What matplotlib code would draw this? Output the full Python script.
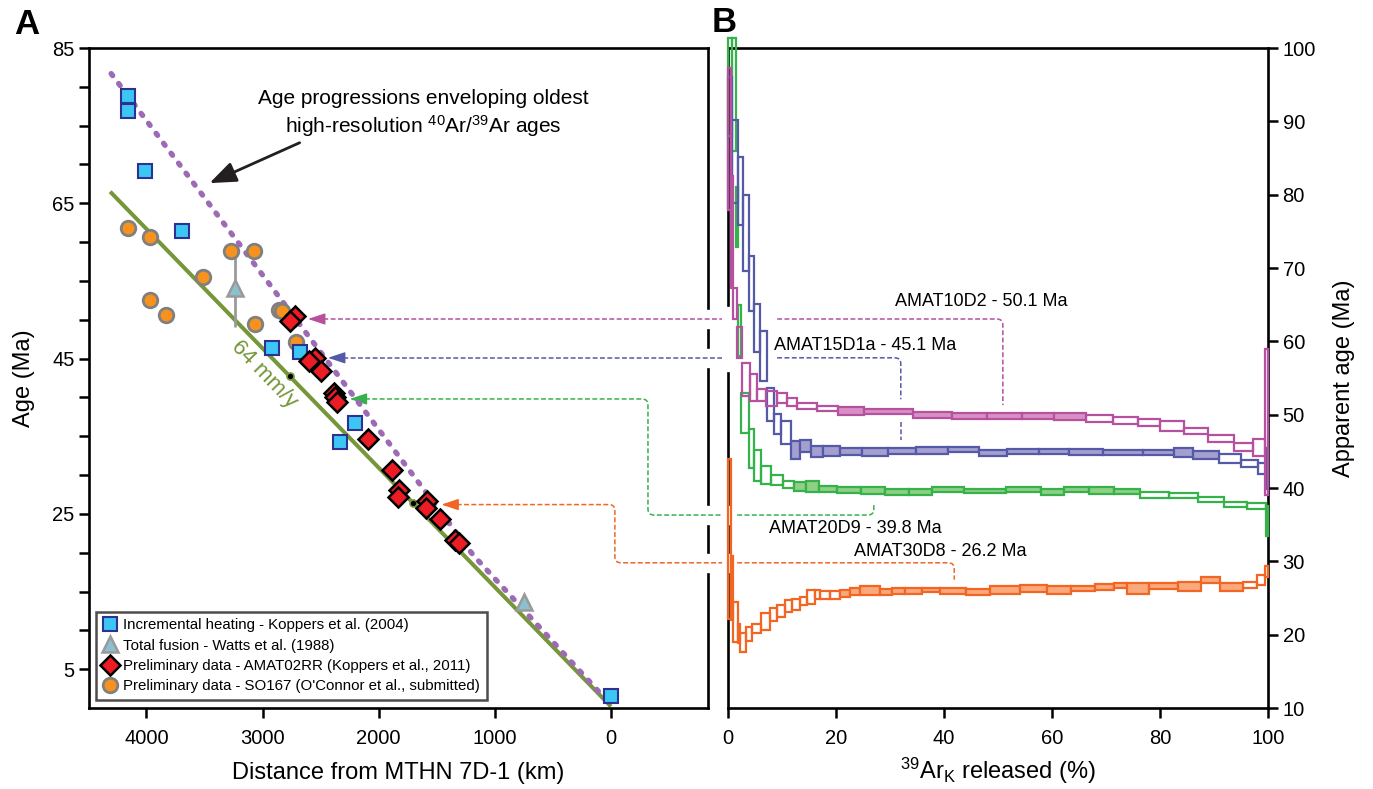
import numpy as np
import matplotlib
matplotlib.use('Agg')
import matplotlib.pyplot as plt
from matplotlib.lines import Line2D
from matplotlib.path import Path
from matplotlib.patches import PathPatch
from matplotlib.ticker import MultipleLocator, FixedLocator

plt.rcParams['font.family'] = ['Liberation Sans', 'DejaVu Sans']
plt.rcParams['mathtext.fontset'] = 'custom'
plt.rcParams['mathtext.rm'] = 'Liberation Sans'
plt.rcParams['mathtext.it'] = 'Liberation Sans:italic'
plt.rcParams['mathtext.bf'] = 'Liberation Sans:bold'

# ---------------- Panel A data ----------------
ih_dist = [4155, 4155, 4009, 3698, 2916, 2681, 2207, 2336, 0]
ih_age = [78.8, 76.9, 69.2, 61.4, 46.3, 45.9, 36.7, 34.3, 1.6]
tf_dist = [3241, 750]
tf_age = [54.1, 13.6]
tf_err = [5.0, 0.0]
am_dist = [2724, 2761, 2552, 2601, 2494, 2388, 2379, 2359, 2092, 1888, 1828, 1833,
           1580, 1589, 1468, 1345, 1310]
am_age = [50.5, 49.9, 45.1, 44.7, 43.4, 40.6, 40.1, 39.4, 34.6, 30.7, 28.1, 27.2,
          26.6, 25.8, 24.3, 21.7, 21.3]
so_dist = [4160, 3968, 3270, 3075, 3515, 3968, 3830, 3069, 2860, 2830, 2710]
so_age = [61.8, 60.6, 58.8, 58.9, 55.5, 52.6, 50.6, 49.4, 51.2, 51.1, 47.1]
env_dist = [4304, 1187, 0]
env_age = [81.7, 19.7, 0.4]
rate_dist = [4313, 0]
rate_age = [66.5, 0.2]
rate_mark_dist = [2761, 1704]
rate_mark_age = [42.7, 26.4]

legend_labels = ['Incremental heating - Koppers et al. (2004)',
                 'Total fusion - Watts et al. (1988)',
                 'Preliminary data - AMAT02RR (Koppers et al., 2011)',
                 "Preliminary data - SO167 (O'Connor et al., submitted)"]

# ---------------- Panel B data (step-heating spectra) ----------------
m_edges = [0, 0.5, 1.0, 1.7, 2.6, 4.0, 5.3, 7.1, 9.0, 10.9, 12.7, 16.4, 20.4, 25.1, 34.3,
           41.4, 47.9, 54.4, 60.4, 66.3, 71.3, 75.9, 80.0, 84.4, 88.9, 93.7, 97.2, 99.4, 100]
m_lo = [77.9, 67.3, 63.1, 57.7, 52.5, 51.9, 51.9, 51.2, 51.6, 51.2, 50.8, 50.5,
        49.9, 50.1, 49.6, 49.4, 49.4, 49.4, 49.3,
        49.0, 48.7, 48.4, 47.8, 47.3, 46.3, 45.0, 44.3, 39.1]
m_hi = [97.3, 82.6, 67.3, 62.0, 57.1, 55.6, 53.5, 53.2, 53.0, 52.3, 51.6, 51.2,
        51.0, 50.8, 50.4, 50.2, 50.2, 50.2, 50.2,
        50.0, 49.7, 49.4, 49.2, 48.2, 47.2, 46.2, 46.7, 59.0]
m_plateau = (12, 18)

b_edges = [0, 0.7, 1.9, 2.8, 3.8, 4.8, 5.9, 7.2, 8.5, 9.9, 11.6, 13.3, 15.3, 17.5, 20.7,
           24.9, 29.7, 34.8, 40.8, 46.4, 51.6, 57.5, 63.2, 69.5, 76.9, 82.5, 86.2, 91.0,
           95.0, 98.1, 99.6, 100]
b_lo = [77.9, 78.8, 75.8, 69.6, 64.2, 58.5, 54.6, 49.1, 47.3, 46.0,
        44.0, 44.9, 44.2, 44.3, 44.5, 44.4, 44.7, 44.7, 44.9, 44.3, 44.6, 44.7, 44.5,
        44.5, 44.5, 44.2, 44.0,
        43.4, 42.8, 41.9, 39.8]
b_hi = [96.1, 90.2, 85.1, 79.9, 71.6, 65.1, 61.4, 53.7, 50.1, 49.1,
        46.4, 46.5, 45.7, 45.7, 45.5, 45.5, 45.5, 45.6, 45.6, 45.2, 45.3, 45.3, 45.3,
        45.2, 45.2, 45.5, 45.0,
        44.6, 43.8, 43.4, 45.5]
b_plateau = (10, 26)

g_edges = [0, 0.7, 1.4, 1.8, 2.4, 3.9, 4.8, 6.2, 7.9, 10.1, 12.2, 14.4, 16.9, 20.2, 24.7,
           29.0, 33.5, 37.7, 43.7, 51.5, 58.0, 62.2, 66.9, 71.5, 76.3, 81.7, 87.1, 91.8,
           96.2, 99.6, 100]
g_lo = [88.0, 86.0, 72.8, 58.0, 47.5, 42.7, 40.9, 40.6, 40.4, 40.0,
        39.6, 39.5, 39.4, 39.3, 39.2, 39.1, 39.0, 39.5, 39.3, 39.4, 39.0, 39.4, 39.2, 39.2,
        38.7, 38.6, 38.1, 37.4, 37.2, 33.4]
g_hi = [101.4, 101.4, 81.0, 65.0, 53.0, 48.0, 45.2, 43.0, 41.8, 40.9,
        40.8, 41.0, 40.3, 40.1, 40.1, 39.9, 39.9, 40.2, 39.8, 40.1, 39.9, 40.1, 40.1, 39.9,
        39.4, 39.3, 38.8, 38.1, 38.0, 37.5]
g_plateau = (10, 23)

o_edges = [0, 0.6, 1.0, 1.9, 2.3, 3.4, 4.5, 6.1, 7.8, 9.1, 10.6, 11.8, 13.3, 14.7, 16.1,
           17.0, 18.9, 20.7, 22.6, 24.4, 28.1, 30.3, 32.8, 35.9, 39.3, 44.1, 48.5, 54.1,
           59.0, 63.6, 68.0, 71.4, 73.8, 78.0, 83.4, 87.5, 91.1, 95.4, 97.9, 99.4, 100]
o_lo = [22.2, 22.0, 19.0, 18.8, 17.7, 19.2, 20.2, 20.6, 21.8, 22.4, 23.1, 23.4, 24.0,
        24.2, 24.9, 24.8, 24.9, 25.2, 25.4,
        25.4, 25.4, 25.6, 25.5, 25.8, 25.6, 25.4, 25.6, 25.8, 25.6, 25.9, 26.1, 26.3,
        25.6, 26.2, 26.0, 27.0, 26.0,
        26.3, 26.8, 27.9]
o_hi = [43.9, 30.7, 24.5, 21.5, 20.2, 21.1, 21.5, 22.9, 23.6, 24.1, 24.7, 24.9, 25.2,
        26.1, 26.1, 26.0, 25.9, 26.1, 26.4,
        26.6, 26.2, 26.4, 26.4, 26.3, 26.4, 26.2, 26.6, 26.8, 26.6, 26.6, 26.9, 27.1,
        27.0, 27.0, 27.2, 27.8, 27.0,
        27.2, 28.2, 29.3]
o_plateau = (17, 36)

spec_labels = ['AMAT10D2 - 50.1 Ma', 'AMAT15D1a - 45.1 Ma',
               'AMAT20D9 - 39.8 Ma', 'AMAT30D8 - 26.2 Ma']
spec_age = [50.1, 45.1, 39.8, 26.2]
tip_dist = [2609, 2437, 2250, 1460]

# ---------------- colours ----------------
C_MAG, C_MAG_F = '#b5519f', '#d890c4'
C_BLU, C_BLU_F = '#5459a8', '#a59fd0'
C_GRN, C_GRN_F = '#35b24a', '#8fcf86'
C_ORA, C_ORA_F = '#f26522', '#f9a97c'
C_RATE = '#76963a'
C_ENV = '#9d6bb6'

W, H = 1373, 789
fig = plt.figure(figsize=(W / 100, H / 100), dpi=100)
ov = fig.add_axes([0, 0, 1, 1])
ov.set_xlim(0, W)
ov.set_ylim(H, 0)
ov.axis('off')
ov.set_zorder(0)

axA = fig.add_axes([89 / W, (H - 708) / H, (708 - 89) / W, (708 - 48) / H])
axB = fig.add_axes([728 / W, (H - 708) / H, (1268 - 728) / W, (708 - 48) / H])
for ax in (axA, axB):
    ax.set_zorder(1)
    ax.patch.set_alpha(0)

SP_LW = 1.9
TICK_FS = 14.5
LABEL_FS = 17

# ---------------- Panel A ----------------
axA.set_xlim(4495, -836)
axA.set_ylim(0, 85)
axA.plot(rate_dist, rate_age, color=C_RATE, lw=2.9, solid_capstyle='butt', zorder=2)
env_line, = axA.plot(env_dist, env_age, color=C_ENV, lw=3.9, zorder=3)
env_line.set_dashes([0.45, 1.85])
env_line.set_dash_capstyle('round')
axA.plot(rate_mark_dist, rate_mark_age, 'o', ms=5, mfc='k', mec=C_RATE, mew=1.2, zorder=4)

axA.errorbar(tf_dist, tf_age, yerr=tf_err, fmt='none', ecolor='#9a9a9a', elinewidth=2.0,
             capsize=0, zorder=4)
sty_ih = dict(marker='s', ms=10, mfc='#3cc6f4', mec='#2e3192', mew=1.5, ls='none')
sty_tf = dict(marker='^', ms=12, mfc='#8cbfd0', mec='#9a9a9a', mew=1.8, ls='none')
sty_am = dict(marker='D', ms=10, mfc='#ec1c24', mec='k', mew=1.8, ls='none')
sty_so = dict(marker='o', ms=10.5, mfc='#f7921e', mec='#808080', mew=2.0, ls='none')
axA.plot(ih_dist, ih_age, zorder=6, **sty_ih)
axA.plot(tf_dist, tf_age, zorder=5, **sty_tf)
axA.plot(so_dist, so_age, zorder=5, **sty_so)
axA.plot(am_dist, am_age, zorder=7, **sty_am)

handles = [Line2D([], [], **sty_ih), Line2D([], [], **sty_tf),
           Line2D([], [], **sty_am), Line2D([], [], **sty_so)]
leg = axA.legend(handles, legend_labels, loc='lower left', bbox_to_anchor=(0.012, 0.012),
                 borderaxespad=0, fontsize=10.8, frameon=True, fancybox=False,
                 edgecolor='#231f20', handlelength=0.9, handletextpad=0.45,
                 labelspacing=0.42, borderpad=0.45)
leg.get_frame().set_linewidth(1.8)
leg.set_zorder(10)

axA.text(1620, 76.5, 'Age progressions enveloping oldest\n'
         'high-resolution $^{40}$Ar/$^{39}$Ar ages', ha='center', va='center',
         fontsize=15, linespacing=1.25, zorder=8)
axA.annotate('', xy=(3457, 67.6), xytext=(2681, 72.8),
             arrowprops=dict(arrowstyle='-|>,head_length=0.9,head_width=0.35', color='#231f20',
                             lw=2.0, mutation_scale=18, shrinkA=0, shrinkB=0), zorder=8)
axA.text(2991, 43.0, '64 mm/y', color=C_RATE, fontsize=16, rotation=-46,
         ha='center', va='center', rotation_mode='anchor', zorder=8)

axA.xaxis.set_major_locator(FixedLocator([4000, 3000, 2000, 1000, 0]))
axA.yaxis.set_major_locator(FixedLocator([5, 25, 45, 65, 85]))
axA.yaxis.set_minor_locator(FixedLocator([10, 15, 20, 30, 35, 40, 50, 55, 60, 70, 75, 80]))
axA.tick_params(which='both', direction='out', length=7, width=1.8, labelsize=TICK_FS,
                top=False, right=False)
axA.tick_params(axis='x', pad=8)
axA.set_xlabel('Distance from MTHN 7D-1 (km)', fontsize=LABEL_FS, labelpad=10)
axA.set_ylabel('Age (Ma)', fontsize=LABEL_FS, labelpad=12)
for s in ('left', 'bottom', 'top'):
    axA.spines[s].set_linewidth(SP_LW)
axA.spines['right'].set_visible(False)

# ---------------- Panel B ----------------
axB.set_xlim(0, 100)
axB.set_ylim(10, 100)


def spectrum(ax, edges, lo, hi, plateau, ec, fc, z):
    e = np.asarray(edges, float)
    lo = np.asarray(lo, float)
    hi = np.asarray(hi, float)
    left, width, height = e[:-1], np.diff(e), hi - lo
    isp = np.zeros(len(lo), bool)
    isp[plateau[0]:plateau[1] + 1] = True
    ax.bar(left[~isp], height[~isp], width=width[~isp], bottom=lo[~isp], align='edge',
           facecolor='none', edgecolor=ec, linewidth=1.6, clip_on=False, zorder=z)
    ax.bar(left[isp], height[isp], width=width[isp], bottom=lo[isp], align='edge',
           facecolor=fc, edgecolor=ec, linewidth=1.6, clip_on=False, zorder=z)


spectrum(axB, g_edges, g_lo, g_hi, g_plateau, C_GRN, C_GRN_F, 3)
spectrum(axB, b_edges, b_lo, b_hi, b_plateau, C_BLU, C_BLU_F, 4)
spectrum(axB, m_edges, m_lo, m_hi, m_plateau, C_MAG, C_MAG_F, 5)
spectrum(axB, o_edges, o_lo, o_hi, o_plateau, C_ORA, C_ORA_F, 6)

axB.xaxis.set_major_locator(MultipleLocator(20))
axB.yaxis.set_major_locator(MultipleLocator(10))
axB.yaxis.tick_right()
axB.yaxis.set_label_position('right')
axB.tick_params(direction='out', length=7, width=1.8, labelsize=TICK_FS, left=False,
                right=True, top=False)
axB.tick_params(axis='x', pad=8)
axB.set_xlabel('$^{39}$Ar$_{\\mathregular{K}}$ released (%)', fontsize=LABEL_FS, labelpad=6)
axB.set_ylabel('Apparent age (Ma)', fontsize=LABEL_FS, labelpad=12)
for s in ('right', 'bottom', 'top'):
    axB.spines[s].set_linewidth(SP_LW)
axB.spines['left'].set_visible(False)

spec_pos = [(46.9, 65.4), (25.4, 59.4), (23.5, 34.5), (39.3, 31.3)]
for lab, (px_, py_) in zip(spec_labels, spec_pos):
    axB.text(px_, py_, lab, fontsize=13, ha='center', va='center', zorder=9)


# ---------------- connectors (drawn in figure pixels via axis transforms) ----------------
def to_px(ax, x, y):
    dx, dy = ax.transData.transform((x, y))
    return dx, H - dy


def rounded(pts, r=6.0):
    verts = [pts[0]]
    codes = [Path.MOVETO]
    for k in range(1, len(pts) - 1):
        p0, p1, p2 = (np.array(pts[k - 1], float), np.array(pts[k], float),
                      np.array(pts[k + 1], float))
        d1 = (p1 - p0) / np.linalg.norm(p1 - p0)
        d2 = (p2 - p1) / np.linalg.norm(p2 - p1)
        rr = min(r, np.linalg.norm(p1 - p0) / 2, np.linalg.norm(p2 - p1) / 2)
        verts += [tuple(p1 - d1 * rr), tuple(p1), tuple(p1 + d2 * rr)]
        codes += [Path.LINETO, Path.CURVE3, Path.CURVE3]
    verts.append(pts[-1])
    codes.append(Path.LINETO)
    return Path(verts, codes)


def dashed(pts, c):
    ov.add_patch(PathPatch(rounded(pts), fill=False, edgecolor=c, lw=1.1,
                           linestyle=(0, (3.2, 1.6))))


colors = [C_MAG, C_BLU, C_GRN, C_ORA]
corner_pct = [50.9, 32.0, 27.0, 41.9]
end_age = [51.3, 46.5, 37.9, 27.5]
gap_pct = [(-1.1, 9.1), (-1.1, 9.1), (-1.1, 1.7), (-1.1, 1.7)]
a_corner = [None, None, -319, -34]
a_low_age = [None, None, 24.85, 18.7]
cross_y = []
for i in range(4):
    c = colors[i]
    xt, yl = to_px(axA, tip_dist[i], spec_age[i])
    xg0 = to_px(axB, gap_pct[i][0], 50)[0]
    xg1 = to_px(axB, gap_pct[i][1], 50)[0]
    xc = to_px(axB, corner_pct[i], 50)[0]
    ye = to_px(axB, 50, end_age[i])[1]
    if a_corner[i] is None:
        yc = yl
        dashed([(xt + 8, yl), (xg0, yl)], c)
        if i == 1:
            yb0 = to_px(axB, 50, 52.1)[1]
            yb1 = to_px(axB, 50, 49.0)[1]
            dashed([(xg1, yl), (xc, yl), (xc, yb0)], c)
            dashed([(xc, yb1), (xc, ye)], c)
        else:
            dashed([(xg1, yl), (xc, yl), (xc, ye)], c)
    else:
        xa = to_px(axA, a_corner[i], 0)[0]
        yc = to_px(axA, 0, a_low_age[i])[1]
        dashed([(xt + 8, yl), (xa, yl), (xa, yc), (xg0, yc)], c)
        dashed([(xg1, yc), (xc, yc), (xc, ye)], c)
    cross_y.append(yc)
    ov.annotate('', xy=(xt, yl), xytext=(xt + 12, yl),
                arrowprops=dict(arrowstyle='-|>,head_length=0.75,head_width=0.25', color=c,
                                lw=1.0, mutation_scale=14, shrinkA=0, shrinkB=0))

# broken inner spines (A right, B left)
xA_r = to_px(axA, -836, 0)[0]
xB_l = to_px(axB, 0, 50)[0]
y_top = to_px(axA, 0, 85)[1]
y_bot = to_px(axA, 0, 0)[1]


def broken_spine(x, gaps):
    gaps = sorted(gaps)
    y0 = y_top
    for g0, g1 in gaps:
        ov.plot([x, x], [y0, g0], color='k', lw=SP_LW, solid_capstyle='projecting')
        y0 = g1
    ov.plot([x, x], [y0, y_bot], color='k', lw=SP_LW, solid_capstyle='projecting')


broken_spine(xA_r, [(y - 11, y + 11) for y in cross_y])
broken_spine(xB_l, [(cross_y[0] - 14, cross_y[1] + 15),
                    (cross_y[2] - 11, cross_y[2] + 11),
                    (cross_y[3] - 11, cross_y[3] + 11)])

fig.text(27 / W, 1 - 25 / H, 'A', fontsize=25, fontweight='bold', ha='center', va='center')
fig.text(724 / W, 1 - 23 / H, 'B', fontsize=25, fontweight='bold', ha='center', va='center')

fig.savefig('out.png', dpi=100, facecolor='white')
